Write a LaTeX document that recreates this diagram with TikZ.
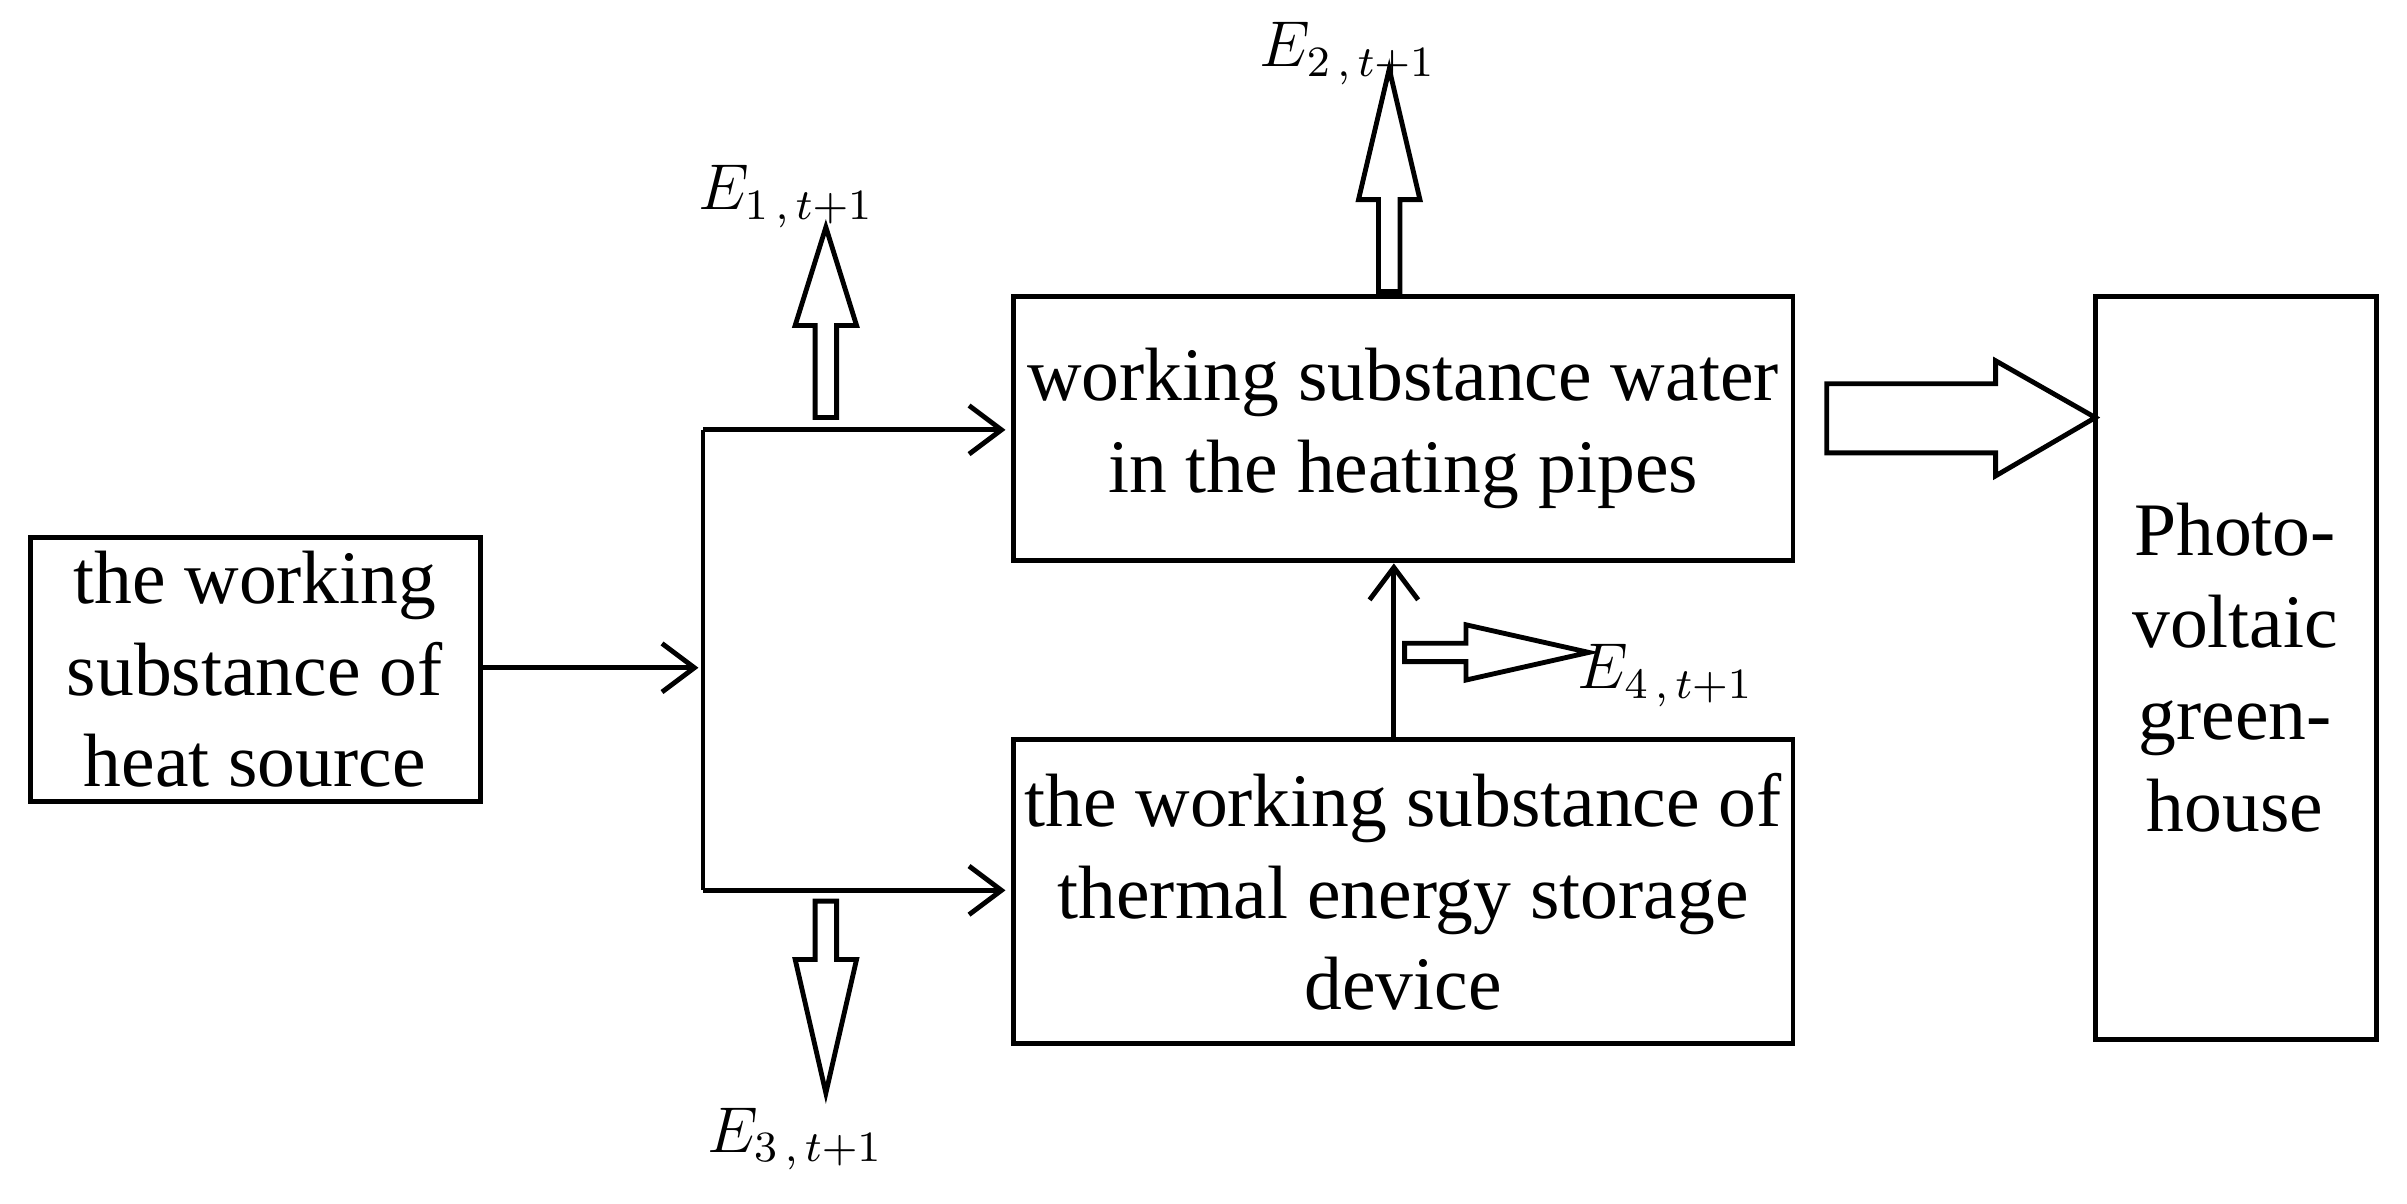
\documentclass[tikz,border=0pt]{standalone}
\usepackage{fontspec}
\setmainfont{Liberation Serif}
\usetikzlibrary{arrows.meta}
\begin{document}
\begin{tikzpicture}[x=0.01cm,y=-0.01cm,line width=0.9pt,
 txt/.style={align=center,font=\fontsize{14}{17}\selectfont},
 arr/.style={-{Straight Barb[length=6pt,width=9pt]}},
 lab/.style={font=\large}]
\useasboundingbox (0,0) rectangle (1568,784);
\fill[white] (0,0) rectangle (1568,784);
\draw (20,350) rectangle (313,522);
\node[txt] (hs) at (166,436) {the working\\substance of\\heat source};
\draw (660,193) rectangle (1168,365);
\node[txt] (wp) at (914,279) {working substance water\\in the heating pipes};
\draw (660,482) rectangle (1168,680);
\node[txt] (ts) at (914,581) {the working substance of\\thermal energy storage\\device};
\draw (1365,193) rectangle (1548,677);
\node[txt] (pv) at (1456,435) {Photo-\\voltaic\\green-\\house};
\coordinate (a0) at (313,435); \coordinate (a1) at (455,435);
\coordinate (t0) at (458,280); \coordinate (t1) at (655,280);
\coordinate (b0) at (458,580); \coordinate (b1) at (655,580);
\coordinate (v0) at (908,482); \coordinate (v1) at (908,367);
\draw[arr] (a0) -- (a1);
\draw (t0) -- (b0);
\draw[arr] (t0) -- (t1);
\draw[arr] (b0) -- (b1);
\draw[arr] (v0) -- (v1);
% hollow arrows
\draw (1190,250) -- (1300,250) -- (1300,235) -- (1365,272) -- (1300,310) -- (1300,295) -- (1190,295) -- cycle;
\draw (531,272) -- (531,212) -- (518,212) -- (538,148) -- (558,212) -- (545,212) -- (545,272) -- cycle;
\draw (898,190) -- (898,130) -- (885,130) -- (905,45) -- (925,130) -- (912,130) -- (912,190) -- cycle;
\draw (531,587) -- (531,625) -- (518,625) -- (538,712) -- (558,625) -- (545,625) -- (545,587) -- cycle;
\draw (915,419) -- (955,419) -- (955,407) -- (1035,425) -- (955,443) -- (955,431) -- (915,431) -- cycle;
\node[lab] (e1) at (512,128) {$E_{1\,,\,t\mathrm{+}1}$};
\node[lab] (e2) at (878,35) {$E_{2\,,\,t\mathrm{+}1}$};
\node[lab] (e3) at (518,742) {$E_{3\,,\,t\mathrm{+}1}$};
\node[lab] (e4) at (1085,440) {$E_{4\,,\,t\mathrm{+}1}$};
\end{tikzpicture}
\end{document}
